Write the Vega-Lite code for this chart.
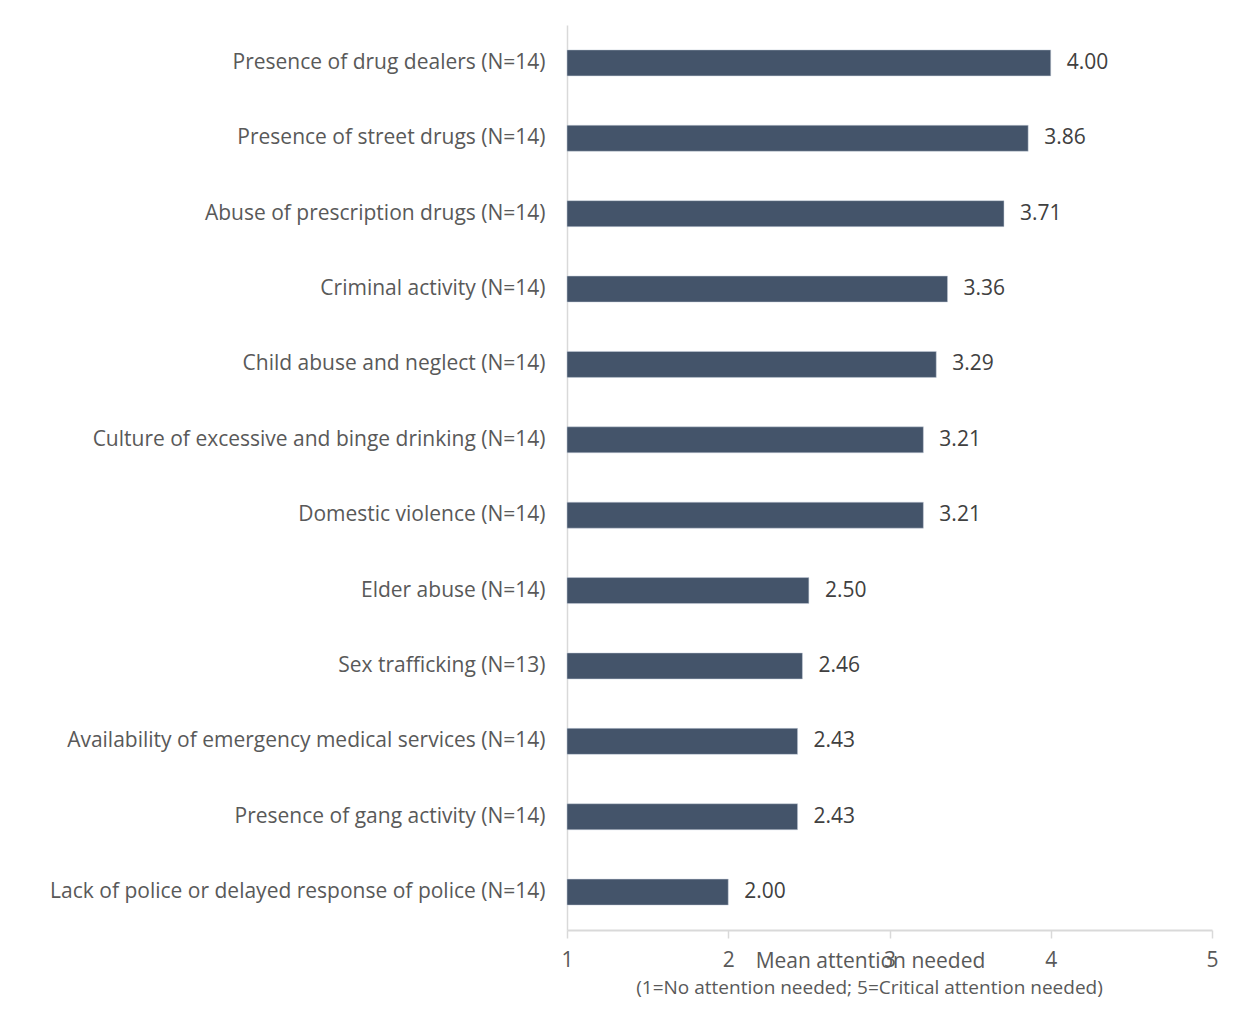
{
  "$schema": "https://vega.github.io/schema/vega-lite/v6.json",
  "autosize": {"type": "none"},
  "padding": {"left": 567, "top": 25, "right": 29, "bottom": 100},
  "width": 645,
  "height": 905,
  "background": "white",
  "config": {"view": {"stroke": null}, "font": "Open Sans"},
  "data": {"values": [
    {"item": "Presence of drug dealers (N=14)", "mean": 4.00},
    {"item": "Presence of street drugs (N=14)", "mean": 3.86},
    {"item": "Abuse of prescription drugs (N=14)", "mean": 3.71},
    {"item": "Criminal activity (N=14)", "mean": 3.36},
    {"item": "Child abuse and neglect (N=14)", "mean": 3.29},
    {"item": "Culture of excessive and binge drinking (N=14)", "mean": 3.21},
    {"item": "Domestic violence (N=14)", "mean": 3.21},
    {"item": "Elder abuse (N=14)", "mean": 2.50},
    {"item": "Sex trafficking (N=13)", "mean": 2.46},
    {"item": "Availability of emergency medical services (N=14)", "mean": 2.43},
    {"item": "Presence of gang activity (N=14)", "mean": 2.43},
    {"item": "Lack of police or delayed response of police (N=14)", "mean": 2.00}
  ]},
  "title": {
    "text": "(1=No attention needed; 5=Critical attention needed)",
    "orient": "bottom",
    "anchor": "middle",
    "frame": "group",
    "fontSize": 19,
    "fontWeight": "normal",
    "color": "#595959",
    "font": "Open Sans",
    "offset": 8,
    "dx": -20
  },
  "encoding": {
    "y": {
      "field": "item",
      "type": "nominal",
      "sort": null,
      "scale": {"paddingInner": 0.655, "paddingOuter": 0.33},
      "axis": {
        "title": null,
        "ticks": false,
        "domain": true,
        "domainColor": "#d9d9d9",
        "domainWidth": 1.5,
        "labelFontSize": 21,
        "labelColor": "#595959",
        "labelPadding": 22,
        "labelLimit": 0
      }
    }
  },
  "layer": [
    {
      "mark": {"type": "bar", "color": "#44546a", "stroke": "#c9d0dc", "strokeWidth": 0.5},
      "encoding": {
        "x": {
          "field": "mean",
          "type": "quantitative",
          "scale": {"domain": [1, 5], "nice": false, "zero": false},
          "axis": {
            "values": [1, 2, 3, 4, 5],
            "format": "d",
            "labelFlush": false,
            "grid": false,
            "domainColor": "#d9d9d9",
            "domainWidth": 2,
            "tickColor": "#d9d9d9",
            "tickWidth": 1.5,
            "tickSize": 8,
            "labelFontSize": 21,
            "labelColor": "#595959",
            "labelPadding": 11,
            "title": "Mean attention needed",
            "titleFontSize": 21,
            "titleFontWeight": "normal",
            "titleColor": "#595959",
            "titleX": 303,
            "titleY": 31,
            "titleBaseline": "middle"
          }
        },
        "x2": {"datum": 1}
      }
    },
    {
      "mark": {"type": "text", "align": "left", "baseline": "middle", "dx": 16, "fontSize": 21, "color": "#404040"},
      "encoding": {
        "x": {"field": "mean", "type": "quantitative"},
        "text": {"field": "mean", "type": "quantitative", "format": ".2f"}
      }
    }
  ]
}
